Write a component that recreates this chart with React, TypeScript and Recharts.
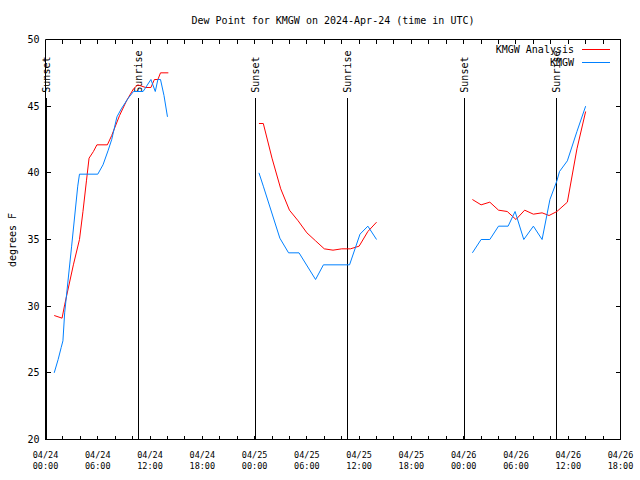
import { LineChart, Line, XAxis, YAxis, ReferenceLine, Legend } from 'recharts';

// hours since 04/24 00:00 UTC, dew point in degrees F
const analysisHours1 = [1, 1.9, 2.2, 3.2, 3.9, 4.3, 4.7, 5, 5.5, 5.9, 7.1, 7.6, 8.5, 9.3, 10.1, 10.6, 11.5, 12.1, 12.5, 12.9, 13.2, 14.1];
const analysisDew1 = [29.3, 29.1, 30.1, 33.1, 35.0, 37.1, 39.4, 41.1, 41.6, 42.1, 42.1, 42.8, 44.3, 45.4, 46.3, 46.6, 46.4, 46.4, 47.0, 47.0, 47.5, 47.5];
const analysisHours2 = [24.5, 25, 26, 27, 28, 29, 30, 31, 32, 33, 34, 35, 36, 37, 38];
const analysisDew2 = [43.7, 43.7, 41.1, 38.8, 37.2, 36.4, 35.5, 34.9, 34.3, 34.2, 34.3, 34.3, 34.5, 35.6, 36.3];
const analysisHours3 = [49, 50, 51, 52, 53, 54, 55, 56, 57, 57.8, 58.7, 59.9, 61, 62];
const analysisDew3 = [38.0, 37.6, 37.8, 37.2, 37.1, 36.5, 37.2, 36.9, 37.0, 36.8, 37.1, 37.8, 41.8, 44.6];

const obsHours1 = [1, 1.45, 1.8, 2, 2.2, 3, 3.7, 3.9, 6, 6.6, 7.2, 7.6, 8.2, 8.7, 9.5, 10.1, 11.2, 12.1, 12.6, 12.9, 13.2, 13.6, 14];
const obsDew1 = [25.0, 26.0, 26.9, 27.4, 29.5, 34.5, 39.0, 39.9, 39.9, 40.6, 41.7, 42.5, 44.2, 44.8, 45.6, 46.1, 46.1, 47.0, 46.1, 47.0, 47.0, 45.8, 44.2];
const obsHours2 = [24.5, 25, 26.9, 27.9, 29.1, 31, 31.9, 34.9, 36.1, 37, 38];
const obsDew2 = [40.0, 39.0, 35.1, 34.0, 34.0, 32.0, 33.1, 33.1, 35.4, 36.0, 35.0];
const obsHours3 = [49, 50, 51, 52, 53.1, 53.9, 54.9, 56, 57, 57.9, 58.7, 59, 59.9, 61, 62];
const obsDew3 = [34.0, 35.0, 35.0, 36.0, 36.0, 37.1, 35.0, 36.0, 35.0, 38.0, 39.4, 40.1, 40.9, 43.1, 45.0];

const sunHours = [0.07, 10.63, 24.1, 34.62, 48.13, 58.6];
const sunLabels = ['Sunset', 'Sunrise', 'Sunset', 'Sunrise', 'Sunset', 'Sunrise'];

const xTicks = [0, 2, 4, 6, 8, 10, 12, 14, 16, 18, 20, 22, 24, 26, 28, 30, 32, 34, 36, 38, 40, 42, 44, 46, 48, 50, 52, 54, 56, 58, 60, 62, 64, 66];
const xDates = ['04/24', '04/24', '04/24', '04/24', '04/25', '04/25', '04/25', '04/25', '04/26', '04/26', '04/26', '04/26'];
const xTimes = ['00:00', '06:00', '12:00', '18:00', '00:00', '06:00', '12:00', '18:00', '00:00', '06:00', '12:00', '18:00'];
const yTicks = [20, 25, 30, 35, 40, 45, 50];
const seriesOrder = ['KMGW Analysis', 'KMGW'];

const FONT = '"DejaVu Sans Mono", monospace';

// segments joined with a null point so the line breaks between them
function joinSegments(parts: [number[], number[]][]) {
  const rows: { hour: number; dew: number | null }[] = [];
  parts.forEach(([hours, dew], k) => {
    if (k > 0) rows.push({ hour: hours[0] - 0.01, dew: null });
    hours.forEach((h, i) => rows.push({ hour: h, dew: dew[i] }));
  });
  return rows;
}

const analysisData = joinSegments([
  [analysisHours1, analysisDew1],
  [analysisHours2, analysisDew2],
  [analysisHours3, analysisDew3],
]);
const obsData = joinSegments([
  [obsHours1, obsDew1],
  [obsHours2, obsDew2],
  [obsHours3, obsDew3],
]);

function BottomTick({ x, y, payload }: any) {
  const h = payload.value;
  const i = h % 6 === 0 ? h / 6 : -1;
  return (
    <g>
      <line x1={x} y1={y} x2={x} y2={y - 4} stroke="#000" shapeRendering="crispEdges" />
      {i >= 0 && (
        <g fontFamily={FONT} fontSize={8.5} fill="#000" textAnchor="middle">
          <text x={x} y={y + 15.5} dominantBaseline="central">{xDates[i]}</text>
          <text x={x} y={y + 26.5} dominantBaseline="central">{xTimes[i]}</text>
        </g>
      )}
    </g>
  );
}

function TopTick({ x, y }: any) {
  return <line x1={x} y1={y} x2={x} y2={y + 4} stroke="#000" shapeRendering="crispEdges" />;
}

function LeftTick({ x, y, payload }: any) {
  return (
    <g>
      <line x1={x} y1={y} x2={x + 5} y2={y} stroke="#000" shapeRendering="crispEdges" />
      <text x={x - 6} y={y} textAnchor="end" dominantBaseline="central" fontFamily={FONT} fontSize={10} fill="#000">
        {payload.value}
      </text>
    </g>
  );
}

function RightTick({ x, y }: any) {
  return <line x1={x} y1={y} x2={x - 5} y2={y} stroke="#000" shapeRendering="crispEdges" />;
}

function SunLabel({ viewBox, text }: any) {
  const x = viewBox.x;
  const y = viewBox.y - 5.5;
  return (
    <text x={x} y={y} transform={`rotate(-90 ${x} ${y})`} textAnchor="start" dominantBaseline="central"
      fontFamily={FONT} fontSize={10} fill="#000">
      {text}
    </text>
  );
}

function LegendBox({ payload }: any) {
  const items = [...(payload || [])].sort((a: any, b: any) => seriesOrder.indexOf(a.value) - seriesOrder.indexOf(b.value));
  return (
    <svg width={640} height={80} style={{ position: 'absolute', left: 0, top: 0, overflow: 'visible' }}>
      {items.map((p: any, i: number) => (
        <g key={p.value}>
          <text x={574} y={49.5 + 13 * i} textAnchor="end" dominantBaseline="central" fontFamily={FONT} fontSize={10} fill="#000">
            {p.value}
          </text>
          <line x1={582} x2={610} y1={49.5 + 13 * i} y2={49.5 + 13 * i} stroke={p.color} />
        </g>
      ))}
    </svg>
  );
}

export default function App() {
  return (
    <div style={{ position: 'absolute', left: 0, top: 0, width: 640, height: 480, background: '#fff' }}>
      <LineChart width={640} height={480} margin={{ top: 38.5, right: 18.5, bottom: 39.5, left: 44.5 }}>
        <XAxis xAxisId="b" dataKey="hour" type="number" domain={[0, 66]} allowDataOverflow ticks={xTicks} interval={0}
          height={1} tickSize={0} tickMargin={0} tickLine={false} axisLine={{ stroke: '#000' }} tick={<BottomTick />} />
        <XAxis xAxisId="t" orientation="top" dataKey="hour" type="number" domain={[0, 66]} allowDataOverflow ticks={xTicks} interval={0}
          height={1} tickSize={0} tickMargin={0} tickLine={false} axisLine={{ stroke: '#000' }} tick={<TopTick />} />
        <YAxis yAxisId="l" type="number" domain={[20, 50]} allowDataOverflow ticks={yTicks} interval={0}
          width={1} tickSize={0} tickMargin={0} tickLine={false} axisLine={{ stroke: '#000' }} tick={<LeftTick />} />
        <YAxis yAxisId="r" orientation="right" type="number" domain={[20, 50]} allowDataOverflow ticks={yTicks} interval={0}
          width={1} tickSize={0} tickMargin={0} tickLine={false} axisLine={{ stroke: '#000' }} tick={<RightTick />} />
        {sunHours.map((h, i) => (
          <ReferenceLine key={i} xAxisId="b" yAxisId="l" segment={[{ x: h, y: 45.6 }, { x: h, y: 20 }]}
            stroke="#000" strokeWidth={1} shapeRendering="crispEdges" label={<SunLabel text={sunLabels[i]} />} />
        ))}
        <Line xAxisId="b" yAxisId="l" data={analysisData} dataKey="dew" name="KMGW Analysis" type="linear"
          stroke="#ff0000" strokeWidth={1} dot={false} activeDot={false} isAnimationActive={false} />
        <Line xAxisId="b" yAxisId="l" data={obsData} dataKey="dew" name="KMGW" type="linear"
          stroke="#0080ff" strokeWidth={1} dot={false} activeDot={false} isAnimationActive={false} />
        <Legend layout="horizontal" verticalAlign="middle" align="center"
          wrapperStyle={{ left: 0, top: 0, width: 640, height: 0 }} content={<LegendBox />} />
        <text x={333} y={20.5} textAnchor="middle" dominantBaseline="central" fontFamily={FONT} fontSize={10} fill="#000">
          Dew Point for KMGW on 2024-Apr-24 (time in UTC)
        </text>
        <text x={12.5} y={240} transform="rotate(-90 12.5 240)" textAnchor="middle" dominantBaseline="central"
          fontFamily={FONT} fontSize={10} fill="#000">
          degrees F
        </text>
      </LineChart>
    </div>
  );
}
